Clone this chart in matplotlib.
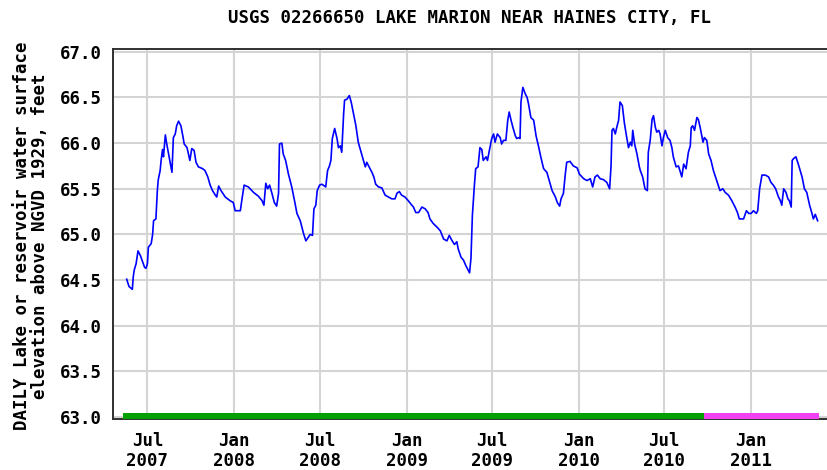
import matplotlib
matplotlib.use('Agg')
import matplotlib.pyplot as plt
import pandas as pd

# nivel diario do lago (pes, NGVD 1929)
datas = [
    '2007-05-18', '2007-05-23', '2007-05-30', '2007-06-01', '2007-06-03', '2007-06-07', '2007-06-11',
    '2007-06-16', '2007-06-25', '2007-06-28', '2007-07-01', '2007-07-03', '2007-07-09', '2007-07-12',
    '2007-07-14', '2007-07-19', '2007-07-22', '2007-07-24', '2007-07-28', '2007-07-30', '2007-08-02',
    '2007-08-04', '2007-08-08', '2007-08-11', '2007-08-16', '2007-08-20', '2007-08-22', '2007-08-25',
    '2007-08-29', '2007-09-01', '2007-09-05', '2007-09-10', '2007-09-14', '2007-09-17', '2007-09-23',
    '2007-09-26', '2007-09-29', '2007-10-03', '2007-10-08', '2007-10-12', '2007-10-17', '2007-10-26',
    '2007-10-31', '2007-11-06', '2007-11-11', '2007-11-16', '2007-11-22', '2007-11-25', '2007-11-29',
    '2007-12-04', '2007-12-13', '2007-12-23', '2007-12-30',
    '2008-01-03', '2008-01-14', '2008-01-17', '2008-01-22', '2008-01-31', '2008-02-11', '2008-02-21',
    '2008-02-29', '2008-03-04', '2008-03-08', '2008-03-12', '2008-03-16', '2008-03-21', '2008-03-26',
    '2008-03-31', '2008-04-04', '2008-04-06', '2008-04-11', '2008-04-14', '2008-04-19', '2008-04-25',
    '2008-05-02', '2008-05-09', '2008-05-13', '2008-05-20', '2008-05-27', '2008-06-01', '2008-06-06',
    '2008-06-10', '2008-06-15', '2008-06-18', '2008-06-22', '2008-06-25', '2008-06-30', '2008-07-05',
    '2008-07-13', '2008-07-17', '2008-07-21', '2008-07-24', '2008-07-27', '2008-08-01', '2008-08-06',
    '2008-08-09', '2008-08-13', '2008-08-16', '2008-08-20', '2008-08-22', '2008-08-27', '2008-09-01',
    '2008-09-05', '2008-09-10', '2008-09-15', '2008-09-20', '2008-09-26', '2008-10-01', '2008-10-05',
    '2008-10-08', '2008-10-13', '2008-10-19', '2008-10-23', '2008-10-27', '2008-11-02', '2008-11-09',
    '2008-11-16', '2008-11-23', '2008-11-30', '2008-12-07', '2008-12-11', '2008-12-16', '2008-12-21',
    '2008-12-28',
    '2009-01-04', '2009-01-10', '2009-01-15', '2009-01-20', '2009-01-26', '2009-02-02', '2009-02-09',
    '2009-02-15', '2009-02-19', '2009-02-26', '2009-03-06', '2009-03-13', '2009-03-20', '2009-03-27',
    '2009-04-01', '2009-04-06', '2009-04-12', '2009-04-17', '2009-04-20', '2009-04-26', '2009-05-01',
    '2009-05-06', '2009-05-14', '2009-05-17', '2009-05-20', '2009-05-24', '2009-05-27', '2009-06-01',
    '2009-06-05', '2009-06-09', '2009-06-12', '2009-06-18', '2009-06-21', '2009-06-25', '2009-06-30',
    '2009-07-04', '2009-07-07', '2009-07-12', '2009-07-18', '2009-07-21', '2009-07-25', '2009-07-30',
    '2009-08-03', '2009-08-06', '2009-08-10', '2009-08-14', '2009-08-19', '2009-08-22', '2009-08-26',
    '2009-08-29', '2009-08-31', '2009-09-04', '2009-09-09', '2009-09-13', '2009-09-16', '2009-09-21',
    '2009-09-27', '2009-10-02', '2009-10-07', '2009-10-12', '2009-10-18', '2009-10-25', '2009-10-30',
    '2009-11-05', '2009-11-12', '2009-11-16', '2009-11-21', '2009-11-24', '2009-11-29', '2009-12-03',
    '2009-12-06', '2009-12-13', '2009-12-20', '2009-12-28',
    '2010-01-02', '2010-01-11', '2010-01-18', '2010-01-25', '2010-01-30', '2010-02-04', '2010-02-09',
    '2010-02-15', '2010-02-22', '2010-03-01', '2010-03-07', '2010-03-10', '2010-03-12', '2010-03-15',
    '2010-03-19', '2010-03-22', '2010-03-26', '2010-03-29', '2010-04-03', '2010-04-07', '2010-04-11',
    '2010-04-16', '2010-04-20', '2010-04-23', '2010-04-25', '2010-04-29', '2010-05-04', '2010-05-09',
    '2010-05-11', '2010-05-16', '2010-05-21', '2010-05-26', '2010-05-28', '2010-06-01', '2010-06-05',
    '2010-06-08', '2010-06-12', '2010-06-15', '2010-06-19', '2010-06-22', '2010-06-26', '2010-06-29',
    '2010-07-03', '2010-07-08', '2010-07-13', '2010-07-17', '2010-07-20', '2010-07-26', '2010-07-31',
    '2010-08-04', '2010-08-07', '2010-08-11', '2010-08-16', '2010-08-21', '2010-08-25', '2010-08-27',
    '2010-08-30', '2010-09-03', '2010-09-08', '2010-09-11', '2010-09-15', '2010-09-21', '2010-09-24',
    '2010-09-29', '2010-10-03', '2010-10-08', '2010-10-13', '2010-10-20', '2010-10-27', '2010-11-02',
    '2010-11-07', '2010-11-14', '2010-11-21', '2010-11-28', '2010-12-03', '2010-12-07', '2010-12-16',
    '2010-12-22', '2010-12-27',
    '2011-01-01', '2011-01-06', '2011-01-12', '2011-01-15', '2011-01-19', '2011-01-24', '2011-01-31',
    '2011-02-07', '2011-02-12', '2011-02-17', '2011-02-22', '2011-02-28', '2011-03-04', '2011-03-07',
    '2011-03-11', '2011-03-16', '2011-03-20', '2011-03-23', '2011-03-27', '2011-03-29', '2011-04-01',
    '2011-04-06', '2011-04-11', '2011-04-19', '2011-04-24', '2011-04-29', '2011-05-05', '2011-05-10',
    '2011-05-13', '2011-05-17', '2011-05-22',
]
nivel = [
    64.51, 64.43, 64.40, 64.54, 64.61, 64.68, 64.82,
    64.77, 64.64, 64.63, 64.68, 64.86, 64.90, 65.00,
    65.15, 65.17, 65.48, 65.60, 65.70, 65.81, 65.93,
    65.85, 66.09, 65.99, 65.85, 65.74, 65.68, 66.06,
    66.10, 66.19, 66.24, 66.19, 66.08, 65.99, 65.95,
    65.88, 65.81, 65.94, 65.92, 65.79, 65.74, 65.72,
    65.70, 65.63, 65.54, 65.48, 65.43, 65.41, 65.53,
    65.48, 65.41, 65.37, 65.35,
    65.26, 65.26, 65.37, 65.54, 65.52, 65.46, 65.42,
    65.37, 65.32, 65.56, 65.50, 65.54, 65.45, 65.35,
    65.31, 65.45, 65.99, 66.00, 65.88, 65.81, 65.66,
    65.52, 65.34, 65.23, 65.15, 65.01, 64.93, 64.97,
    65.00, 64.99, 65.28, 65.32, 65.48, 65.54, 65.55,
    65.52, 65.70, 65.75, 65.81, 66.05, 66.16, 66.05,
    65.95, 65.97, 65.90, 66.32, 66.47, 66.48, 66.52,
    66.45, 66.32, 66.19, 66.01, 65.90, 65.81, 65.74,
    65.79, 65.74, 65.68, 65.63, 65.55, 65.52, 65.51,
    65.43, 65.41, 65.39, 65.39, 65.45, 65.47, 65.43,
    65.41,
    65.37, 65.33, 65.30, 65.24, 65.24, 65.30, 65.28,
    65.24, 65.17, 65.12, 65.08, 65.04, 64.95, 64.93,
    64.99, 64.94, 64.89, 64.92, 64.84, 64.75, 64.72,
    64.66, 64.58, 64.74, 65.21, 65.52, 65.72, 65.74,
    65.95, 65.93, 65.81, 65.85, 65.81, 65.92, 66.05,
    66.10, 66.01, 66.10, 66.06, 65.99, 66.03, 66.03,
    66.25, 66.34, 66.25, 66.17, 66.08, 66.05, 66.06,
    66.05, 66.45, 66.61, 66.54, 66.50, 66.43, 66.28,
    66.25, 66.08, 65.97, 65.85, 65.72, 65.68, 65.59,
    65.48, 65.41, 65.35, 65.31, 65.39, 65.45, 65.66,
    65.79, 65.80, 65.75, 65.73,
    65.66, 65.61, 65.59, 65.61, 65.52, 65.63, 65.65,
    65.61, 65.60, 65.57, 65.50, 65.75, 66.14, 66.16,
    66.10, 66.17, 66.25, 66.45, 66.41, 66.23, 66.10,
    65.95, 66.01, 65.97, 66.14, 65.99, 65.88, 65.74,
    65.70, 65.63, 65.50, 65.48, 65.90, 66.03, 66.26,
    66.30, 66.17, 66.12, 66.14, 66.10, 65.97, 66.06,
    66.14, 66.06, 66.03, 65.95, 65.85, 65.74, 65.75,
    65.68, 65.63, 65.77, 65.72, 65.90, 65.97, 66.17,
    66.19, 66.14, 66.28, 66.26, 66.17, 66.01, 66.06,
    66.03, 65.88, 65.81, 65.70, 65.59, 65.48, 65.50,
    65.46, 65.43, 65.37, 65.30, 65.24, 65.17, 65.17,
    65.26, 65.23,
    65.23, 65.26, 65.23, 65.26, 65.50, 65.65, 65.65,
    65.63, 65.57, 65.54, 65.50, 65.41, 65.37, 65.32,
    65.50, 65.46, 65.39, 65.37, 65.30, 65.81, 65.83,
    65.85, 65.77, 65.63, 65.50, 65.46, 65.32, 65.23,
    65.17, 65.22, 65.15,
]

# barra de status dos dados (aprovado / provisorio)
status_inicio = ['2007-05-11', '2010-09-23']
status_fim = ['2010-09-23', '2011-05-24']
status_cor = ['#00a000', '#f040f0']

yticks = [63.0, 63.5, 64.0, 64.5, 65.0, 65.5, 66.0, 66.5, 67.0]
xticks = ['2007-07-01', '2008-01-01', '2008-07-01', '2009-01-01', '2009-07-01',
          '2010-01-01', '2010-07-01', '2011-01-01']
xtick_labels = ['Jul\n2007', 'Jan\n2008', 'Jul\n2008', 'Jan\n2009', 'Jul\n2009',
                'Jan\n2010', 'Jul\n2010', 'Jan\n2011']

fonte = 'DejaVu Sans Mono'
tam = 12.5

fig = plt.figure(figsize=(8.28, 4.70), dpi=100)
ax = fig.add_axes([113 / 828, 51 / 470, 715 / 828, 370 / 470])

ax.plot(pd.to_datetime(datas), nivel, color='#0000ff', lw=1.2, zorder=3)

for ini, fim, cor in zip(status_inicio, status_fim, status_cor):
    ax.fill_between(pd.to_datetime([ini, fim]), 62.98, 63.05, color=cor, lw=0, zorder=4)

ax.set_ylim(62.98, 67.03)
ax.set_xlim(pd.Timestamp('2007-04-19'), pd.Timestamp('2011-06-13'))

ax.set_yticks(yticks)
ax.set_yticklabels(['%.1f' % v for v in yticks], fontfamily=fonte, fontweight='bold', fontsize=tam)
ax.set_xticks(pd.to_datetime(xticks))
ax.set_xticklabels(xtick_labels, fontfamily=fonte, fontweight='bold', fontsize=tam)
for lbl in ax.get_xticklabels():
    lbl.set_linespacing(1.15)

ax.grid(True, color='#d4d4d4', lw=1.5)
ax.set_axisbelow(True)
ax.tick_params(axis='both', length=0)
ax.tick_params(axis='y', pad=8)
ax.tick_params(axis='x', pad=9)

for lado in ['left', 'top', 'bottom']:
    ax.spines[lado].set_color('#303030')
    ax.spines[lado].set_linewidth(1.4)
ax.spines['right'].set_visible(False)

fig.text(470 / 828, 1 - 18 / 470, 'USGS 02266650 LAKE MARION NEAR HAINES CITY, FL',
         ha='center', va='center', fontsize=tam, fontweight='bold', fontfamily=fonte)
fig.text(31 / 828, 1 - 236 / 470,
         'DAILY Lake or reservoir water surface\nelevation above NGVD 1929, feet',
         ha='center', va='center', rotation=90, fontsize=tam, fontweight='bold',
         fontfamily=fonte, linespacing=1.05)

fig.savefig('out.png', dpi=100)
